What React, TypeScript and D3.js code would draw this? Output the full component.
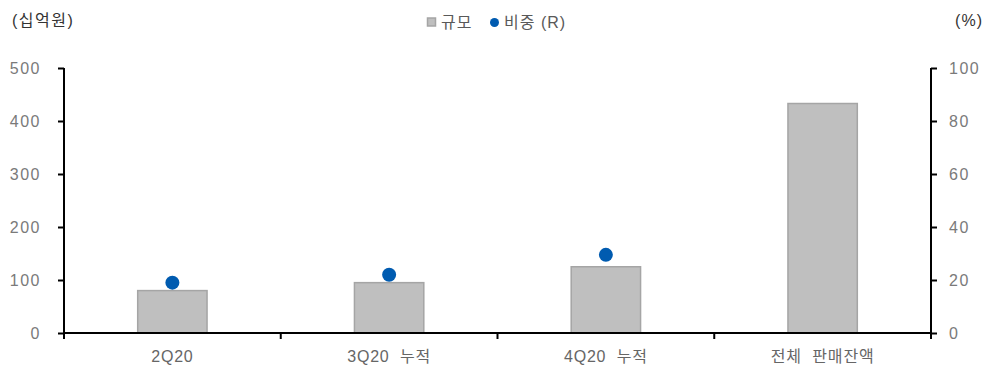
import { useRef, useEffect } from 'react';
import * as d3 from 'd3';

const categories = ['2Q20', '3Q20  누적', '4Q20  누적', '전체  판매잔액'];
const sizeValues = [80, 95, 125, 433];
const shareValues: (number | null)[] = [19, 22, 29.5, null];
const leftTicks = [0, 100, 200, 300, 400, 500];
const rightTicks = [0, 20, 40, 60, 80, 100];

const W = 1001;
const H = 374;
const FONT = '"Liberation Sans", "Noto Sans CJK KR", sans-serif';

export default function App() {
  const svgRef = useRef<SVGSVGElement>(null);

  useEffect(() => {
    if (!svgRef.current) return;
    const svg = d3.select(svgRef.current);
    svg.selectAll('*').remove();

    const left = 64;
    const right = 931;
    const top = 68;
    const bottom = 333;

    const x = d3.scaleBand().domain(categories).range([left, right]).paddingInner(0).paddingOuter(0);
    const yL = d3.scaleLinear().domain([0, 500]).range([bottom, top]);
    const yR = d3.scaleLinear().domain([0, 100]).range([bottom, top]);
    const barW = x.bandwidth() * 0.32;

    // Bars
    svg.append('g')
      .selectAll('rect')
      .data(categories)
      .join('rect')
      .attr('x', (d) => x(d)! + x.bandwidth() / 2 - barW / 2)
      .attr('y', (_, i) => yL(sizeValues[i]))
      .attr('width', barW)
      .attr('height', (_, i) => bottom - yL(sizeValues[i]))
      .attr('fill', '#bfbfbf')
      .attr('stroke', '#a5a5a5')
      .attr('stroke-width', 1.5);

    // Left axis
    const gl = svg.append('g').attr('transform', `translate(${left},0)`)
      .call(d3.axisLeft(yL).tickValues(leftTicks).tickSize(6).tickPadding(17));
    // Right axis
    const gr = svg.append('g').attr('transform', `translate(${right},0)`)
      .call(d3.axisRight(yR).tickValues(rightTicks).tickSize(6).tickPadding(12));
    // Bottom axis with ticks on boundaries
    const gb = svg.append('g').attr('transform', `translate(0,${bottom})`);
    gb.append('line').attr('x1', left).attr('x2', right).attr('y1', 0).attr('y2', 0)
      .attr('stroke', '#000').attr('stroke-width', 2);
    const bounds = categories.map((c) => x(c)!).concat([right]);
    gb.selectAll('line.tk').data(bounds).join('line').attr('class', 'tk')
      .attr('x1', (d) => d).attr('x2', (d) => d).attr('y1', 0).attr('y2', 6)
      .attr('stroke', '#000').attr('stroke-width', 2);
    gb.selectAll('text').data(categories).join('text')
      .attr('x', (d) => x(d)! + x.bandwidth() / 2)
      .attr('y', 29)
      .attr('text-anchor', 'middle')
      .attr('font-size', 16)
      .attr('letter-spacing', 0.8)
      .attr('font-family', FONT)
      .attr('fill', '#666')
      .style('white-space', 'pre')
      .text((d) => d);

    [gl, gr].forEach((g) => {
      g.select('.domain').attr('stroke', '#000').attr('stroke-width', 2);
      g.selectAll('.tick line').attr('stroke', '#000').attr('stroke-width', 2);
      g.selectAll('.tick text').attr('font-size', 16).attr('letter-spacing', 1.5)
        .attr('font-family', FONT).attr('fill', '#7a7a7a');
    });
    gl.select('.domain').attr('d', `M0,${top}V${bottom}`);
    gr.select('.domain').attr('d', `M0,${top}V${bottom}`);

    // Dots
    svg.append('g')
      .selectAll('circle')
      .data(categories.filter((_, i) => shareValues[i] !== null))
      .join('circle')
      .attr('cx', (d) => x(d)! + x.bandwidth() / 2)
      .attr('cy', (_, i) => yR(shareValues[i] as number))
      .attr('r', 7)
      .attr('fill', '#005bb0');

    // Titles
    svg.append('text').attr('x', 12).attr('y', 26).attr('font-size', 16).attr('letter-spacing', 1.5)
      .attr('font-family', FONT).attr('fill', '#333').text('(십억원)');
    svg.append('text').attr('x', 983).attr('y', 26).attr('font-size', 16).attr('text-anchor', 'end')
      .attr('letter-spacing', 1)
      .attr('font-family', FONT).attr('fill', '#333').text('(%)');

    // Legend
    const lg = svg.append('g');
    lg.append('rect').attr('x', 427.5).attr('y', 18).attr('width', 8).attr('height', 8)
      .attr('fill', '#bfbfbf').attr('stroke', '#a5a5a5').attr('stroke-width', 1.5);
    lg.append('text').attr('x', 441).attr('y', 28).attr('font-size', 16).attr('letter-spacing', 1)
      .attr('font-family', FONT).attr('fill', '#595959').text('규모');
    lg.append('circle').attr('cx', 494.5).attr('cy', 22.5).attr('r', 4.5).attr('fill', '#005bb0');
    lg.append('text').attr('x', 504).attr('y', 28).attr('font-size', 16).attr('letter-spacing', 1)
      .attr('font-family', FONT).attr('fill', '#595959').style('white-space', 'pre').text('비중 (R)');
  }, []);

  return (
    <svg
      ref={svgRef}
      width={W}
      height={H}
      style={{ position: 'absolute', left: 0, top: 0, background: '#fff' }}
    />
  );
}
